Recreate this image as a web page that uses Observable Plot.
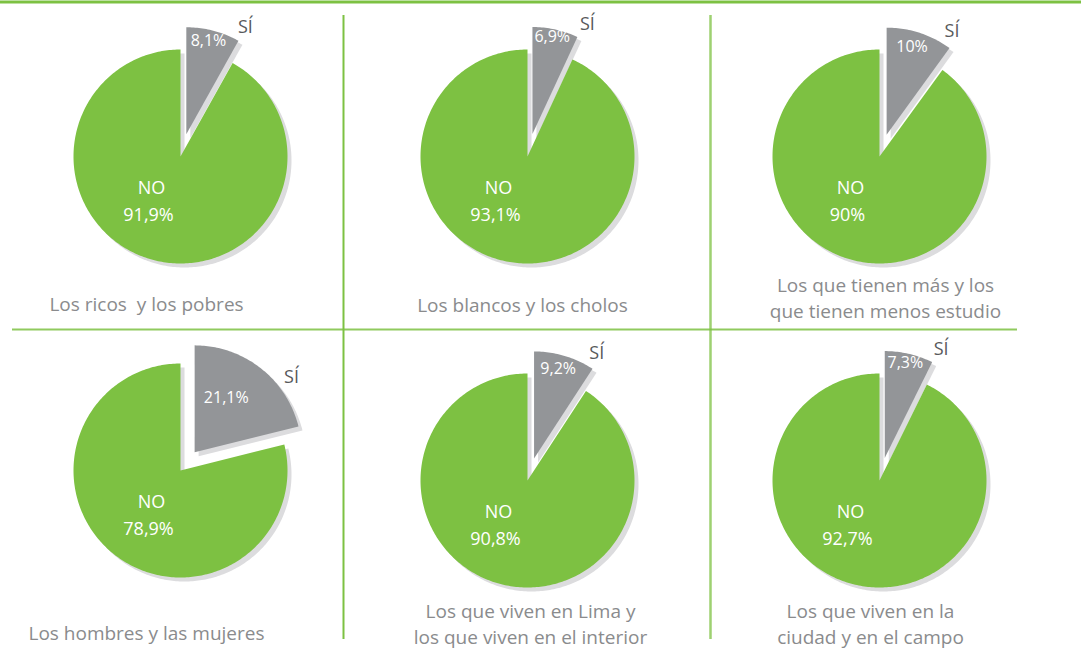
<!DOCTYPE html>
<html><head><meta charset="utf-8">
<script src="https://cdn.jsdelivr.net/npm/d3@7"></script>
<script src="https://cdn.jsdelivr.net/npm/@observablehq/plot@0.6"></script>
<style>
html,body{margin:0;padding:0;background:#fff;}
#chart{width:1081px;height:652px;}
</style>
</head><body><div id="chart"></div>
<script>
// ---- data ----
const captions = [
  "Los ricos  y los pobres",
  "Los blancos y los cholos",
  "Los que tienen más y los\nque tienen menos estudio",
  "Los hombres y las mujeres",
  "Los que viven en Lima y\nlos que viven en el interior",
  "Los que viven en la\nciudad y en el campo"
];
const siValues = [8.1, 6.9, 10, 21.1, 9.2, 7.3];
const noValues = [91.9, 93.1, 90, 78.9, 90.8, 92.7];
const answerLabels = ["SÍ", "NO"];

// ---- layout ----
const W = 1081, H = 652;
const centers = [[180,156],[527,156],[879,156],[180,470],[527,480],[879,480]];
const captionPos = [[146,302],[522,303],[885,296],[146,631],[530,622],[870,622]];
const R = 107, EXPLODE = 23, SHADOW = 4;
const GREEN = "#7dc142", GRAY = "#939598", SHADE = "#dcdcde";
const FONT = "'Open Sans', sans-serif";
const fmt = v => String(v).replace(".", ",") + "%";

function slicePoints(id, cx, cy, a0, a1, r) {
  const pts = [{id, x: cx, y: cy}];
  const n = Math.max(2, Math.ceil((a1 - a0) / (Math.PI / 180)));
  for (let i = 0; i <= n; i++) {
    const a = a0 + (a1 - a0) * i / n;
    pts.push({id, x: cx + r * Math.sin(a), y: cy - r * Math.cos(a)});
  }
  return pts;
}

const greenPts = [], grayPts = [], shadowPts = [];
const grayText = [], greenText = [], siText = [], capText = [];
siValues.forEach((si, i) => {
  const [cx, cy] = centers[i];
  const total = si + noValues[i];
  const a1 = 2 * Math.PI * si / total;
  const m = a1 / 2;
  const gx = cx + EXPLODE * Math.sin(m), gy = cy - EXPLODE * Math.cos(m);
  const gray = slicePoints("s" + i, gx, gy, 0, a1, R);
  const green = slicePoints("n" + i, cx, cy, a1, 2 * Math.PI, R);
  grayPts.push(...gray);
  greenPts.push(...green);
  gray.forEach(p => shadowPts.push({id: "ss" + i, x: p.x + SHADOW, y: p.y + SHADOW}));
  green.forEach(p => shadowPts.push({id: "sn" + i, x: p.x + SHADOW, y: p.y + SHADOW}));
  // percentage inside grey slice
  const share = si / total;
  const la = m * (1 - share), ld = 116 - 2.5 * si;
  grayText.push({x: gx + ld * Math.sin(la), y: gy - ld * Math.cos(la), t: fmt(si)});
  // NO labels
  greenText.push({x: cx - 29, y: cy + 32, t: answerLabels[1]});
  greenText.push({x: cx - 32, y: cy + 59, t: fmt(noValues[i])});
  // SÍ label outside
  const sa = m + 12 * Math.PI / 180;
  siText.push({x: cx + 145 * Math.sin(sa), y: cy - 145 * Math.cos(sa), t: answerLabels[0]});
  capText.push({x: captionPos[i][0], y: captionPos[i][1], t: captions[i]});
});

const plot = Plot.plot({
  width: W, height: H, margin: 0,
  x: {domain: [0, W], range: [0, W], axis: null},
  y: {domain: [0, H], range: [0, H], axis: null},
  style: {background: "white", fontFamily: FONT},
  marks: [
    Plot.ruleY([1.5], {x1: 0, x2: W, stroke: GREEN, strokeWidth: 3}),
    Plot.ruleX([343], {y1: 15, y2: 639, stroke: GREEN, strokeWidth: 2}),
    Plot.ruleX([710], {y1: 15, y2: 639, stroke: GREEN, strokeWidth: 2.5, strokeOpacity: 0.75}),
    Plot.ruleY([329], {x1: 12, x2: 1017, stroke: GREEN, strokeWidth: 2, strokeOpacity: 0.85}),
    Plot.line(shadowPts, {x: "x", y: "y", z: "id", fill: SHADE, stroke: "none", curve: "linear-closed"}),
    Plot.line(greenPts, {x: "x", y: "y", z: "id", fill: GREEN, stroke: "none", curve: "linear-closed"}),
    Plot.line(grayPts, {x: "x", y: "y", z: "id", fill: GRAY, stroke: "none", curve: "linear-closed"}),
    Plot.text(grayText, {x: "x", y: "y", text: "t", fill: "white", fontSize: 16, fontFamily: FONT}),
    Plot.text(greenText, {x: "x", y: "y", text: "t", fill: "white", fontSize: 18, fontFamily: FONT}),
    Plot.text(siText, {x: "x", y: "y", text: "t", fill: "#58595b", fontSize: 18, fontFamily: FONT}),
    Plot.text(capText, {x: "x", y: "y", text: "t", fill: "#8a8b8d", fontSize: 19, fontFamily: FONT, lineHeight: 1.4})
  ]
});
document.getElementById("chart").appendChild(plot);
</script>
</body></html>
